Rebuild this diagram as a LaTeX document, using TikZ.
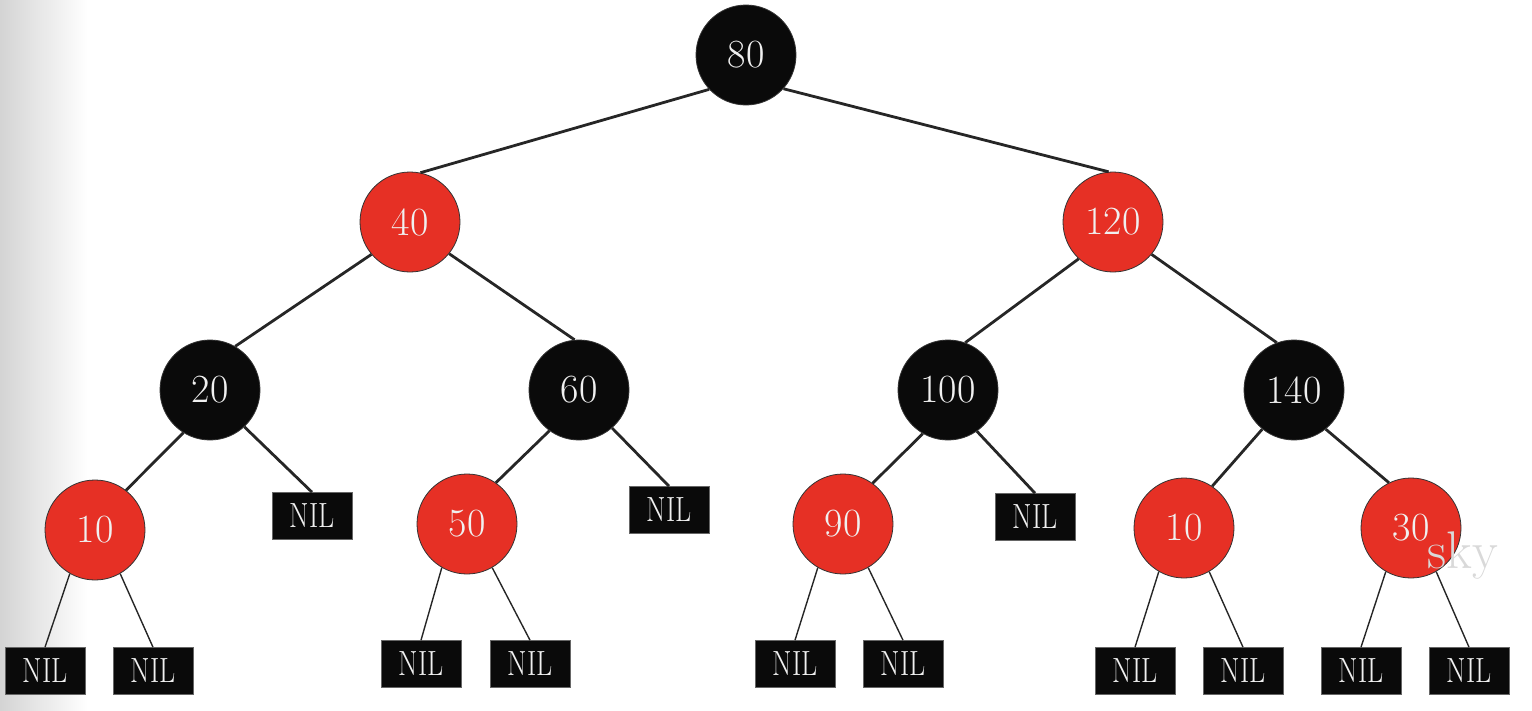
\documentclass[tikz,border=0pt]{standalone}
\usepackage{graphicx}
\definecolor{rbred}{RGB}{230,48,37}
\definecolor{rbblack}{RGB}{10,10,10}
\definecolor{txtw}{RGB}{240,240,240}
\begin{document}
\begin{tikzpicture}[x=1pt,y=-1pt,
  rbnode/.style={circle,minimum size=100pt,inner sep=0pt,draw=black!80,line width=0.8pt,
    text=txtw,font=\fontsize{40}{40}\selectfont},
  rednode/.style={rbnode,fill=rbred},
  blacknode/.style={rbnode,fill=rbblack},
  nilbox/.style={rectangle,fill=rbblack,draw=black!60,line width=0.6pt,minimum width=80pt,minimum height=47pt,
    inner sep=0pt,text=txtw,font=\fontsize{35}{35}\selectfont},
  upedge/.style={line width=2.8pt,draw=black!85},
  lowedge/.style={line width=1.4pt,draw=black!85}
]
\useasboundingbox (0,0) rectangle (1532,710);
\shade[left color={rgb,255:red,212;green,212;blue,212},right color=white] (0,0) rectangle (88,710);

\newcommand{\nil}{\scalebox{0.8}[1]{NIL}}

% circles
\node[blacknode] (n80) at (746,55) {80};
\node[rednode] (n40) at (410,222) {40};
\node[rednode] (n120) at (1113,222) {120};
\node[blacknode] (n20) at (210,390) {20};
\node[blacknode] (n60) at (579,390) {60};
\node[blacknode] (n100) at (948,390) {100};
\node[blacknode] (n140) at (1294,390) {140};
\node[rednode] (n10) at (95,530) {10};
\node[rednode] (n50) at (467,524) {50};
\node[rednode] (n90) at (843,524) {90};
\node[rednode] (n10b) at (1184,528) {10};
\node[rednode] (n30) at (1411,528) {30};

% NIL boxes
\node[nilbox] (nil20) at (312,516) {\nil};
\node[nilbox] (nil60) at (669,510) {\nil};
\node[nilbox] (nil100) at (1035,517) {\nil};
\node[nilbox] (nil10a) at (45,671) {\nil};
\node[nilbox] (nil10b) at (153,671) {\nil};
\node[nilbox] (nil50a) at (421,664) {\nil};
\node[nilbox] (nil50b) at (530,664) {\nil};
\node[nilbox] (nil90a) at (795,664) {\nil};
\node[nilbox] (nil90b) at (903,664) {\nil};
\node[nilbox] (nil10ba) at (1135,671) {\nil};
\node[nilbox] (nil10bb) at (1243,671) {\nil};
\node[nilbox] (nil30a) at (1361,671) {\nil};
\node[nilbox] (nil30b) at (1469,671) {\nil};

% edges
\draw[upedge] (n80.-137) -- (n40.78);
\draw[upedge] (n80.-42) -- (n120.95);
\draw[upedge] (n40.-140) -- (n20.60);
\draw[upedge] (n40.-39) -- (n60.95);
\draw[upedge] (n120.-133) -- (n100.70);
\draw[upedge] (n120.-40) -- (n140.110);
\draw[upedge] (n20.-122) -- (n10.52);
\draw[upedge] (n20.-47) -- (nil20.north);
\draw[upedge] (n60.-126) -- (n50.55);
\draw[upedge] (n60.-49) -- (nil60.north);
\draw[upedge] (n100.-120) -- (n90.54);
\draw[upedge] (n100.-55) -- (nil100.north);
\draw[upedge] (n140.-129) -- (n10b.56);
\draw[upedge] (n140.-51) -- (n30.116);

\draw[lowedge] (n10.-120) -- (nil10a.north);
\draw[lowedge] (n10.-60) -- (nil10b.north);
\draw[lowedge] (n50.-120) -- (nil50a.north);
\draw[lowedge] (n50.-60) -- (nil50b.north);
\draw[lowedge] (n90.-120) -- (nil90a.north);
\draw[lowedge] (n90.-60) -- (nil90b.north);
\draw[lowedge] (n10b.-120) -- (nil10ba.north);
\draw[lowedge] (n10b.-60) -- (nil10bb.north);
\draw[lowedge] (n30.-120) -- (nil30a.north);
\draw[lowedge] (n30.-60) -- (nil30b.north);

% watermark
\node[text=black!15,font=\fontsize{53}{53}\selectfont,inner sep=0pt,anchor=base] (wm) at (1463,568) {sky};
\end{tikzpicture}
\end{document}
